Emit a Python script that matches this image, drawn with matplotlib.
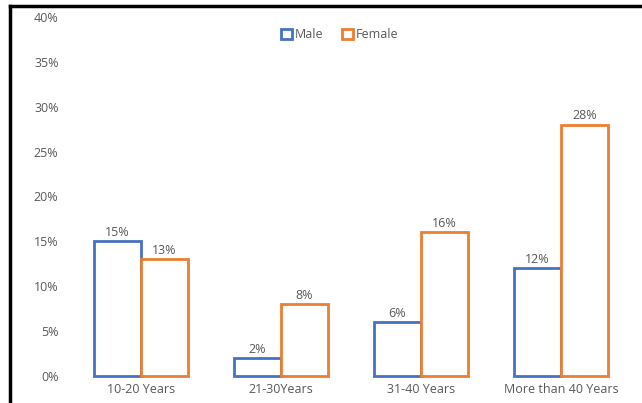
import matplotlib.pyplot as plt
import numpy as np
from matplotlib.lines import Line2D

categories = ["10-20 Years", "21-30Years", "31-40 Years", "More than 40 Years"]
male = [15, 2, 6, 12]
female = [13, 8, 16, 28]

blue = "#4472C4"
orange = "#ED7D31"
gray = "#595959"

plt.rcParams['font.family'] = ['Open Sans', 'DejaVu Sans']

fig = plt.figure(figsize=(6.42, 4.03), dpi=100)
ax = fig.add_axes([0.1106, 0.067, 0.8724, 0.891])

x = np.arange(len(categories))
w = 0.336
b1 = ax.bar(x - w / 2, male, w, facecolor="white", edgecolor=blue, linewidth=2,
            label="Male", clip_on=False)
b2 = ax.bar(x + w / 2, female, w, facecolor="white", edgecolor=orange, linewidth=2,
            label="Female", clip_on=False)

for bars, vals in [(b1, male), (b2, female)]:
    for rect, v in zip(bars, vals):
        ax.text(rect.get_x() + rect.get_width() / 2, v + 0.25, f"{v}%",
                ha="center", va="bottom", fontsize=9, color=gray)

ax.set_xlim(-0.5, 3.5)
ax.set_ylim(0, 40)
ax.set_yticks(range(0, 41, 5))
ax.set_yticklabels([f"{t}%" for t in range(0, 41, 5)])
ax.set_xticks(x)
ax.set_xticklabels(categories)
ax.tick_params(length=0, labelsize=9, colors=gray, pad=9)
ax.tick_params(axis="x", pad=5)
for s in ax.spines.values():
    s.set_visible(False)

ax.legend(loc="upper center", bbox_to_anchor=(0.48, 1.0), ncol=2, frameon=False,
          fontsize=9, labelcolor=gray, handlelength=0.9, handleheight=0.9,
          handletextpad=0.2, columnspacing=1.5)

# screenshot frame
fig.add_artist(Line2D([0.0148, 0.0148], [0, 0.985], color="black", linewidth=2.5))
fig.add_artist(Line2D([0.0148, 1], [0.985, 0.985], color="black", linewidth=2.5))

fig.savefig("out.png", dpi=100)
